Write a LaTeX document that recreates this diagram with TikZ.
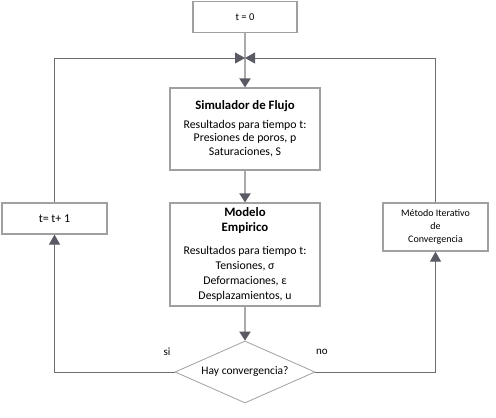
\documentclass[tikz,border=0pt]{standalone}
\usepackage{fontspec}
\setmainfont{Carlito}
\usetikzlibrary{arrows.meta, positioning, shapes.geometric, calc}
\definecolor{boxgray}{RGB}{160,160,160}
\definecolor{flowgray}{RGB}{170,170,170}
\definecolor{loopgray}{RGB}{110,110,110}
\definecolor{tipgray}{RGB}{90,90,100}

\begin{document}
\begin{tikzpicture}[x=1pt, y=-1pt,
  stepbox/.style={draw=boxgray, line width=1.2pt, rectangle, align=center, inner sep=2pt},
  flow/.style={draw=flowgray, line width=2pt, -{Triangle[width=11pt, length=9pt, fill=tipgray, color=tipgray]}},
  loop/.style={draw=loopgray, line width=0.8pt, -{Triangle[width=11pt, length=10pt, fill=tipgray, color=tipgray]}}]
  \useasboundingbox (0,0) rectangle (496,418);

  \node[stepbox, minimum width=104pt, minimum height=31pt, font=\fontsize{10.5}{12}\selectfont] (tzero) at (245,17) {t = 0};

  \node[stepbox, minimum width=150pt, minimum height=82pt, font=\fontsize{11.8}{13.5}\selectfont] (sim) at (245,129) {
    \textbf{\fontsize{12.8}{14}\selectfont Simulador de Flujo}\\[5pt]
    Resultados para tiempo t:\\
    Presiones de poros, p\\
    Saturaciones, S
  };

  \node[stepbox, minimum width=150pt, minimum height=103pt, font=\fontsize{11.8}{15}\selectfont] (modelo) at (245,254.5) {
    \textbf{\fontsize{12.8}{16}\selectfont Modelo}\\
    \textbf{\fontsize{12.8}{16}\selectfont Empirico}\\[8pt]
    Resultados para tiempo t:\\
    Tensiones, σ\\
    Deformaciones, ε\\
    Desplazamientos, u
  };

  \node[draw=boxgray, line width=0.8pt, diamond, aspect=2.26, minimum width=140pt, minimum height=62pt, inner sep=0pt, font=\fontsize{11.5}{12}\selectfont] (conv) at (245,372) {Hay convergencia?};

  \node[stepbox, minimum width=105pt, minimum height=31pt, font=\fontsize{12}{12}\selectfont] (tinc) at (54.5,218.5) {t= t+ 1};

  \node[stepbox, minimum width=105pt, minimum height=48pt, font=\fontsize{10}{13}\selectfont] (metodo) at (435.5,227) {Método Iterativo\\de\\Convergencia};

  \coordinate (join) at (245,58);

  % flujo principal
  \draw[flow] (tzero) -- (sim);
  \draw[flow] (sim) -- (modelo);
  \draw[flow] (modelo) -- (conv);

  % lazos
  \draw[loop] (conv.west) -| (tinc.south);
  \draw[loop] (tinc.north) |- (join);
  \draw[loop] (conv.east) -| (metodo.south);
  \draw[loop] (metodo.north) |- (join);

  \node[font=\fontsize{11}{12}\selectfont] (si) at (167,352) {si};
  \node[font=\fontsize{11}{12}\selectfont] (no) at (322,352) {no};
\end{tikzpicture}
\end{document}
